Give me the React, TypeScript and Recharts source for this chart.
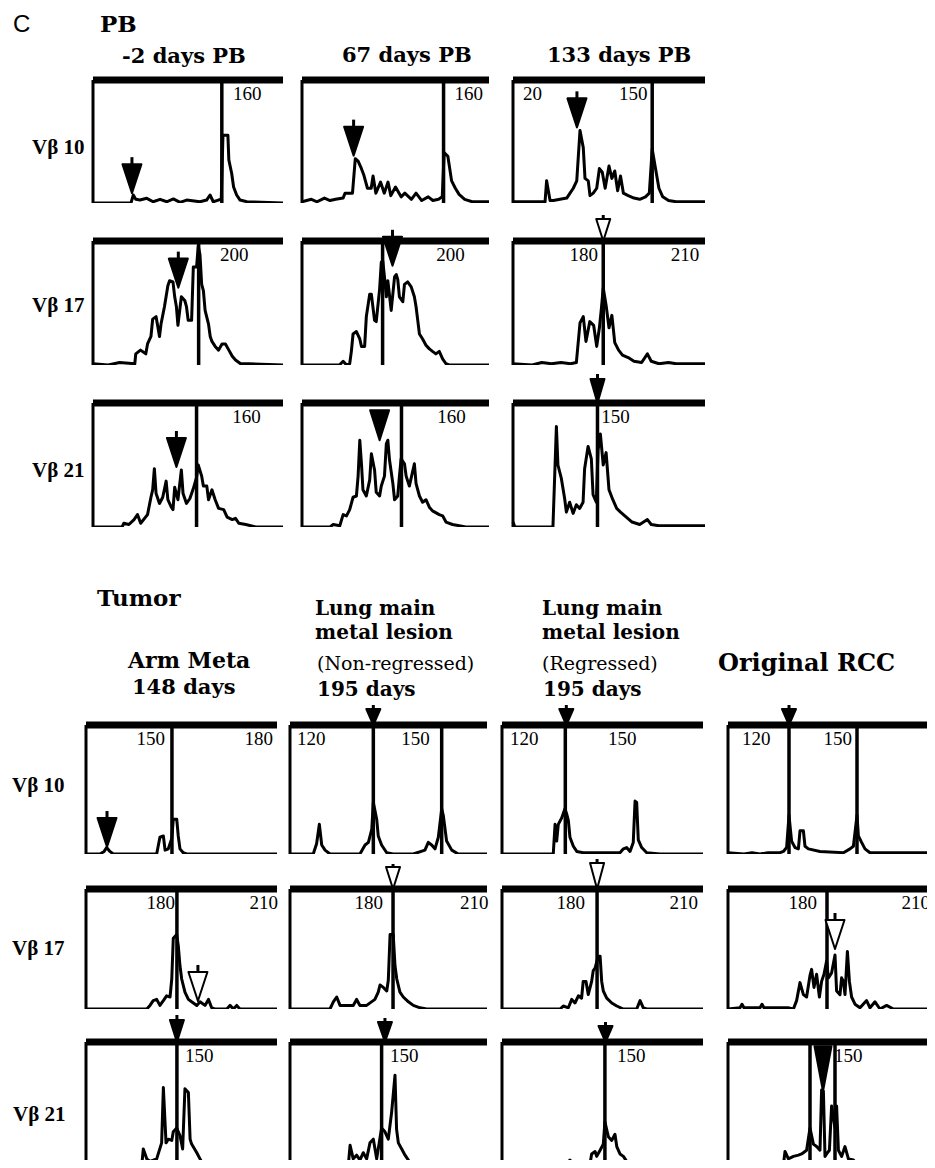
import React from "react";
import { LineChart, Line, XAxis, YAxis, ReferenceLine, ReferenceDot } from "recharts";

type Pt = [number, number];
type Lbl = [string, number, "start" | "end"];
type Arw = [number, number, "solid" | "hollow", number?, number?];

// lane position 0-100 (left to right), signal 0-100 (baseline to top bar)

// PB, Vb10
const pb02V10: Pt[] = [[0,0],[20,0],[21.2,6.5],[22.5,3],[24.7,2.4],[28.3,3.8],[31.7,1],[35.3,3],[38.8,1],[42.3,3.3],[45.8,0.5],[49.3,2.4],[56.3,1],[59.8,2.4],[61.6,6.5],[63.3,1],[66,2.4],[67.5,3],[68.4,55],[71,55],[71.5,35],[73,24],[74,13],[75.6,6.5],[77.4,2.4],[81,1],[100,0]];
const pb67V10: Pt[] = [[0,1],[5,3],[8,1],[12,4],[15,2],[18,3],[22,4],[23,8],[27,8],[28.5,36],[30,34],[31.5,29],[33,23],[35,12],[37,12],[38,22],[39.5,8],[42,17],[44,8],[46,17],[47.5,6],[50,13],[53,5],[55,8],[58.5,3],[61,8],[64,2],[67.5,5],[70,2],[73,3],[75,5],[76,41],[78,38],[80,18],[82,12],[84,7],[87,3],[91,1],[100,1]];
const pb133V10: Pt[] = [[0,1],[16.7,1],[17.5,18],[19.3,2],[21,2],[28,4],[29.7,8],[31.4,12],[33.2,18],[34.9,59],[36.6,45],[37.5,20],[39.2,18],[40.1,6],[41.8,8],[43.6,12],[45,28],[46.5,25],[48,12],[50,30],[51.5,20],[53,26],[54.5,10],[56,22],[57.5,8],[60,6],[63,4],[66,3],[69,5],[71,8],[72.5,44],[74,30],[76,12],[78,5],[81,2],[85,1],[100,1]];

// PB, Vb17
const pb02V17: Pt[] = [[0,1],[8,0],[14,2],[22,1],[22.5,9],[25,12],[27.8,9],[28.7,17],[30.5,23],[31.4,37],[33.2,39],[34.1,31],[35,23],[35.8,33],[37.6,47],[39.4,64],[40.3,68],[42.1,67],[43,55],[43.9,47],[44.7,32],[46.5,55],[48.3,52],[49.2,47],[50.1,36],[51.9,36],[52.8,79],[54.5,79],[55.4,96],[56.3,89],[57.2,65],[58.1,60],[59,44],[60.8,33],[61.7,23],[62.6,19],[64.3,15],[66.1,12],[67.9,17],[69.7,17],[71.5,12],[73.3,7],[75,4],[77.7,1],[82,1],[100,0]];
const pb67V17: Pt[] = [[0,0],[20,0],[22,3],[23.8,0],[25.5,1],[26.4,11],[27.3,25],[29.1,27],[30.9,21],[31.8,15],[33.5,15],[34.4,39],[36.2,57],[37.1,57],[38.8,36],[39.7,35],[41.5,61],[42.4,83],[43.2,84],[44.1,71],[45.1,55],[45.9,68],[47.7,44],[49.5,71],[50.4,73],[51.2,69],[52.1,55],[53.9,51],[54.8,65],[56.5,67],[58.4,63],[60.1,55],[61,47],[61.9,36],[62.8,25],[64.5,21],[66.3,16],[68.1,13],[69.8,11],[71.6,9],[73.4,11],[75.2,5],[77,1],[78.7,0],[100,0]];
const pb133V17: Pt[] = [[0,1],[10,0],[15,2],[20,1],[25,2],[30,1],[33,2],[34.9,34],[36.6,39],[38,19],[40,35],[42,32],[43.6,15],[45,30],[46,45],[47,62],[48.5,48],[50,30],[51.5,40],[53,18],[55,12],[57,8],[60,6],[63,3],[67,2],[70,9],[72,3],[76,1],[81,2],[85,1],[100,1]];

// PB, Vb21
const pb02V21: Pt[] = [[0,0],[15.3,0],[16.2,3],[18.9,2],[21.6,6],[23.4,10],[25.1,3],[28.7,10],[30.5,24],[31.4,30],[32.3,47],[33.2,27],[35,19],[36.7,24],[38.5,37],[39.4,22],[41.2,16],[42.1,14],[43,32],[44.7,22],[46.5,46],[47.4,27],[49.2,19],[51,23],[52.8,31],[54.5,40],[55.4,50],[57.2,41],[58.1,33],[59.9,33],[60.8,22],[62.6,30],[64.3,22],[66.1,15],[68.8,14],[70.6,8],[73.3,6],[75,7],[76.8,3],[80.4,2],[85.7,0],[100,0]];
const pb67V21: Pt[] = [[0,0],[15,0],[16.7,2],[20.2,1],[22,10],[23.8,9],[25.5,14],[27.3,24],[29.1,25],[30,41],[30.9,70],[31.8,51],[32.6,30],[34.4,25],[36.2,38],[37.1,59],[38.8,46],[39.7,28],[41.5,25],[42.4,33],[44.1,41],[45.1,67],[45.9,70],[46.8,54],[48.6,35],[49.5,22],[51.2,25],[52.1,41],[53,55],[54.8,51],[55.7,41],[57.4,33],[60.1,51],[61,35],[62.8,25],[64.5,20],[66.3,22],[68.1,16],[69.8,13],[73.4,10],[75.2,9],[77,4],[80.5,2],[87.6,0],[100,0]];
const pb133V21: Pt[] = [[0,4],[1,0],[20.8,0],[22.6,81],[23.4,50],[25.2,39],[26.9,23],[27.8,12],[29.5,20],[31.3,11],[33,18],[34.7,15],[36.5,20],[37.3,47],[39.1,65],[40.8,55],[41.7,26],[43.4,20],[44.3,62],[45.5,75],[47,50],[48.5,60],[50,30],[52,22],[54,15],[56,12],[59,8],[62,4],[66,2],[70,6],[72,2],[76,1],[100,1]];

// Tumor, Vb10
const armV10: Pt[] = [[0,0],[7.3,0],[9.5,2],[10.8,5],[12.5,2],[14.3,0],[37,0],[38.7,13],[40.5,14],[41.4,3],[43.1,4],[44.9,12],[45.7,27],[47.5,27],[48.3,14],[49.2,4],[50.9,1],[52.7,0],[100,0]];
const nonRegV10: Pt[] = [[0,0],[11.8,0],[13.5,8],[14.9,23],[16.1,7],[17.8,3],[20.3,0],[35.5,0],[38.1,7],[39.8,9],[41.5,19],[42.3,40],[44,27],[44.8,14],[46.5,7],[49.1,1],[52.4,0],[62.6,0],[68.5,3],[70.2,9],[71.9,7],[73.6,4],[75.3,13],[77,35],[77.8,30],[79.5,10],[82.1,3],[85.4,0],[100,0]];
const regV10: Pt[] = [[0,0],[25.5,0],[26.4,23],[27.2,10],[28,23],[29.7,28],[31.3,35],[32.2,31],[33,26],[33.8,13],[35.5,6],[37.2,2],[40.4,1],[58.7,1],[60.4,4],[62,5],[63.7,2],[65.3,9],[66.2,41],[67,40],[67.8,11],[69.5,5],[72,1],[78.6,0],[100,0]];
const rccV10: Pt[] = [[0,1],[8,0],[12,1],[16,0],[20,1],[26,1],[27.7,2],[29.3,5],[30.5,30],[31.8,10],[33.5,5],[35.2,4],[36,18],[37.7,18],[38.5,6],[40.2,4],[46,2],[57.7,1],[61,4],[62.7,6],[64.5,30],[65.2,14],[66.8,9],[68.5,4],[71,1],[100,1]];

// Tumor, Vb17
const armV17: Pt[] = [[0,0],[31.8,0],[33.5,3],[35.2,7],[37,8],[38.7,3],[40.5,7],[42.2,11],[44,10],[44.9,25],[45.7,59],[47.5,62],[48.3,53],[49.2,36],[50.1,25],[51.8,14],[53.6,8],[55.3,6],[58,3],[59.7,6],[62.3,3],[64.1,8],[65.8,1],[67.5,0],[73.7,0],[75.4,3],[77.2,0],[78.9,3],[80.6,0],[100,0]];
const nonRegV17: Pt[] = [[0,0],[20.3,0],[22,6],[23.7,10],[25.4,3],[32.1,3],[33.8,8],[35.5,3],[38.9,3],[43.1,8],[44.8,14],[45.7,20],[47.4,18],[49.1,15],[49.9,24],[50.8,62],[52.4,62],[53.3,36],[54.2,25],[55.8,14],[57.5,10],[60.1,6],[62.6,3],[66,1],[69.4,0],[100,0]];
const regV17: Pt[] = [[0,0],[28.9,0],[30.5,2.5],[33,1],[34.7,8],[36.3,5],[38,11],[39.6,9],[40.4,23],[41.8,23],[42.9,12],[44.6,23],[45.4,32],[46.3,34],[47.9,44],[48.8,44],[49.6,23],[50.4,15],[52.1,9],[54.6,5],[57.1,2.5],[60.4,0],[67,0],[68.7,7],[70.3,1],[72,0],[100,0]];
const rccV17: Pt[] = [[0,0],[6,1],[7,4],[8,1],[16,1],[17,4],[18,1],[30,1],[32.7,0],[34.3,7],[36,22],[37.7,12],[39.3,10],[41,28],[41.8,33],[43,18],[44.3,29],[45.7,10],[46.8,23],[48,29],[49.3,40],[50.2,26],[51.8,30],[53.5,45],[54.3,15],[56,12],[56.8,26],[57.7,23],[58.5,12],[59.7,48],[60.7,23],[61.8,10],[63.5,4],[66,1],[69.3,7],[71,1],[73.5,6],[76,0],[79.3,3],[82.7,0],[100,0]];

// Tumor, Vb21
const armV21: Pt[] = [[0,0],[29.2,0],[30,13],[31.8,5],[33.5,3],[37,5],[39.6,18],[40.5,63],[41.9,18],[43.1,21],[44.9,20],[45.7,27],[47.5,30],[49.2,24],[50.6,13],[51.8,62],[53.6,59],[54.5,21],[55.3,17],[58,10],[59.7,5],[61.4,0],[100,0]];
const nonRegV21: Pt[] = [[0,0],[29.6,0],[30.5,16],[32.1,5],[33.8,8],[35.5,4],[37.2,10],[38.9,5],[40.6,18],[42.3,21],[44,5],[46.5,30],[48.2,27],[49.9,21],[51.6,43],[53.3,73],[54.1,29],[55,18],[56.7,13],[58.4,8],[60.9,2],[64.3,0],[100,0]];
const regV21: Pt[] = [[0,1],[32.2,1],[33.8,4],[35.5,1],[43.8,1],[44.6,9],[46.3,11],[47.1,7],[48.8,12],[50.4,17],[51.2,35],[52.9,23],[54.6,20],[56.2,25],[57.1,15],[58.7,9],[60.4,7],[62,3],[65.3,0],[100,0]];
const rccV21: Pt[] = [[0,0],[27.7,0],[28.5,11],[30.2,5],[32.7,7],[35.2,8],[36.8,9],[39.3,12],[41,30],[42.7,17],[44.3,15],[46,12],[46.8,61],[47.7,60],[48.5,7],[49.3,9],[50.7,12],[51.8,48],[53.5,30],[54.3,48],[55.2,12],[56.8,7],[58.5,15],[60.2,5],[62.7,4],[64.3,1],[69.3,0],[100,0]];

// size-marker lanes, rows Vb10 / Vb17 / Vb21
const pbMarkers: number[][][] = [
  [[67.8], [75.7], [72.5]],
  [[55.6], [43.1], [47]],
  [[54.5], [53.2], [44]],
];
const tuMarkers: number[][][] = [
  [[45], [42.3, 77], [31.5], [30.5, 64.5]],
  [[47.6], [52.3], [47.3], [49.5]],
  [[47.6], [46.5], [51.2], [41, 53.5]],
];

// size labels (bp)
const pbLabels: Lbl[][][] = [
  [[["160", 73.7, "start"]], [["160", 81.6, "start"]], [["20", 5.2, "start"], ["150", 70, "end"]]],
  [[["200", 66.8, "start"]], [["200", 71.8, "start"]], [["180", 44.3, "end"], ["210", 97, "end"]]],
  [[["160", 73.3, "start"]], [["160", 72.3, "start"]], [["150", 46, "start"]]],
];
const tuLabels: Lbl[][][] = [
  [[["150", 41.4, "end"], ["180", 97.9, "end"]], [["120", 3.6, "start"], ["150", 71, "end"]], [["120", 4, "start"], ["150", 52.7, "start"]], [["120", 7, "start"], ["150", 62, "end"]]],
  [[["180", 46.6, "end"], ["210", 100.5, "end"]], [["180", 47.2, "end"], ["210", 86.3, "start"]], [["180", 41.3, "end"], ["210", 97.5, "end"]], [["180", 44.5, "end"], ["210", 101, "end"]]],
  [[["150", 51.8, "start"]], [["150", 50.8, "start"]], [["150", 57.2, "start"]], [["150", 53, "start"]]],
];

// arrowheads: lane, tip height, style (optional head length / stem length)
const pbArrows: Arw[][][] = [
  [[[20.5, 8, "solid"]], [[27.6, 38.5, "solid"]], [[33.3, 61.5, "solid"]]],
  [[[44.9, 62.4, "solid"]], [[48.4, 80, "solid"]], [[47, 100, "hollow", 22, 4]]],
  [[[43.9, 48.4, "solid"]], [[41.5, 70, "solid", 30, 0]], [[44, 100, "solid", 24, 5]]],
];
const tuArrows: Arw[][][] = [
  [[[11, 5.4, "solid"]], [[42.3, 100, "solid"]], [[32, 100, "solid"]], [[30.5, 100, "solid"]]],
  [[[58.6, 6.7, "hollow"]], [[52.3, 100, "hollow", 22, 3]], [[47.3, 100, "hollow", 26, 4]], [[53.5, 50, "hollow"]]],
  [[[47.6, 100, "solid", 22, 5]], [[48.2, 100, "solid", 20, 4]], [[51.5, 100, "solid"]], [[47.5, 60, "solid", 45, 0]]],
];

const pbTraces = [
  [pb02V10, pb67V10, pb133V10],
  [pb02V17, pb67V17, pb133V17],
  [pb02V21, pb67V21, pb133V21],
];
const tuTraces = [
  [armV10, nonRegV10, regV10, rccV10],
  [armV17, nonRegV17, regV17, rccV17],
  [armV21, nonRegV21, regV21, rccV21],
];

// panel frames in page pixels
const TOP_COLS = [[93, 283], [302, 489], [513, 705]];
const TOP_ROWS = [[80, 203], [241, 365], [403, 527]];
const BOT_COLS = [[86, 277], [290, 487], [502, 703], [728, 928]];
const BOT_ROWS = [[725, 854], [889, 1009], [1042, 1165]];

const NUM_FONT = "'Liberation Serif', 'Times New Roman', serif";
const HEAD_FONT = "'DejaVu Serif', serif";

const arrowShape = (kind: string, atBar: boolean, len?: number, stemLen?: number) => (p: any) => {
  const { cx, cy } = p;
  const h = len ?? (atBar ? 16 : 29);
  const hw = atBar ? 7 : len && len > 40 ? 8.5 : 9.5;
  const stem = stemLen ?? (atBar ? 4 : 7);
  return (
    <g>
      {stem > 0 && <line x1={cx} x2={cx} y1={cy - h} y2={cy - h - stem} stroke="#000" strokeWidth={3} />}
      <polygon
        points={`${cx},${cy} ${cx - hw},${cy - h} ${cx + hw},${cy - h}`}
        fill={kind === "hollow" ? "#fff" : "#000"}
        stroke="#000"
        strokeWidth={2}
        strokeLinejoin="round"
      />
    </g>
  );
};

const labelShape = (text: string, anchor: string) => (p: any) => (
  <text x={p.cx} y={p.cy + 20} textAnchor={anchor} fontFamily={NUM_FONT} fontSize={19} fill="#000">
    {text}
  </text>
);

function Panel({ col, row, trace, markers, labels, arrows }: any) {
  const mt = 42, mb = 4, ml = 3, mr = 10;
  const [left, right] = col;
  const [top, bottom] = row;
  const data = trace.map(([p, v]: Pt) => ({ p, v }));
  return (
    <div style={{ position: "absolute", left: left - ml, top: top - mt }}>
      <LineChart
        width={right - left + ml + mr}
        height={bottom - top + mt + mb}
        data={data}
        margin={{ top: mt, right: mr, bottom: mb, left: ml }}
      >
        <XAxis type="number" dataKey="p" domain={[0, 100]} hide />
        <YAxis type="number" domain={[0, 100]} hide allowDataOverflow />
        <ReferenceLine x={0} stroke="#000" strokeWidth={3} />
        {markers.map((m: number) => (
          <ReferenceLine key={`m${m}`} x={m} stroke="#000" strokeWidth={3.5} />
        ))}
        <Line
          dataKey="v"
          type="linear"
          stroke="#000"
          strokeWidth={3}
          strokeLinejoin="round"
          dot={false}
          activeDot={false}
          isAnimationActive={false}
        />
        <ReferenceLine y={100} stroke="#000" strokeWidth={7} />
        {labels.map(([t, x, a]: Lbl) => (
          <ReferenceDot key={`l${t}${x}`} x={x} y={100} r={1} ifOverflow="visible" shape={labelShape(t, a)} />
        ))}
        {arrows.map(([x, y, k, len, stem]: Arw) => (
          <ReferenceDot
            key={`a${x}`}
            x={x}
            y={y}
            r={1}
            ifOverflow="visible"
            shape={arrowShape(k, y >= 100, len, stem)}
          />
        ))}
      </LineChart>
    </div>
  );
}

const head = { fontFamily: HEAD_FONT, fontWeight: 700, fontSize: 21 } as const;
const sub = { fontFamily: HEAD_FONT, fontWeight: 400, fontSize: 19 } as const;
const vb = { fontFamily: NUM_FONT, fontWeight: 700, fontSize: 21 } as const;

export default function App() {
  return (
    <div style={{ position: "relative", width: 935, height: 1168, margin: -8, background: "#fff", overflow: "hidden" }}>
      <svg width={935} height={1168} style={{ position: "absolute", left: 0, top: 0 }}>
        <text x={13} y={32} fontFamily="'Liberation Sans', sans-serif" fontSize={24}>C</text>
        <text x={100} y={32} {...head} fontSize={23}>PB</text>
        <text x={122} y={63} {...head}>-2 days PB</text>
        <text x={342} y={62} {...head}>67 days PB</text>
        <text x={547} y={62} {...head}>133 days PB</text>
        <text x={32} y={154} {...vb}>Vβ 10</text>
        <text x={32} y={312} {...vb}>Vβ 17</text>
        <text x={32} y={477} {...vb}>Vβ 21</text>

        <text x={97} y={606} {...head} fontSize={23}>Tumor</text>
        <text x={128} y={668} {...head} fontSize={22}>Arm Meta</text>
        <text x={132} y={694} {...head}>148 days</text>
        <text x={315} y={615} {...head} fontSize={20}>Lung main</text>
        <text x={315} y={639} {...head} fontSize={20}>metal lesion</text>
        <text x={317} y={670} {...sub}>(Non-regressed)</text>
        <text x={317} y={696} {...head} fontSize={20}>195 days</text>
        <text x={542} y={615} {...head} fontSize={20}>Lung main</text>
        <text x={542} y={639} {...head} fontSize={20}>metal lesion</text>
        <text x={542} y={670} {...sub}>(Regressed)</text>
        <text x={543} y={696} {...head} fontSize={20}>195 days</text>
        <text x={718} y={671} {...head} fontSize={24}>Original RCC</text>
        <text x={12} y={792} {...vb}>Vβ 10</text>
        <text x={12} y={955} {...vb}>Vβ 17</text>
        <text x={13} y={1121} {...vb}>Vβ 21</text>
      </svg>

      {pbTraces.map((r, ri) =>
        r.map((trace, ci) => (
          <Panel
            key={`pb${ri}${ci}`}
            col={TOP_COLS[ci]}
            row={TOP_ROWS[ri]}
            trace={trace}
            markers={pbMarkers[ri][ci]}
            labels={pbLabels[ri][ci]}
            arrows={pbArrows[ri][ci]}
          />
        ))
      )}
      {tuTraces.map((r, ri) =>
        r.map((trace, ci) => (
          <Panel
            key={`tu${ri}${ci}`}
            col={BOT_COLS[ci]}
            row={BOT_ROWS[ri]}
            trace={trace}
            markers={tuMarkers[ri][ci]}
            labels={tuLabels[ri][ci]}
            arrows={tuArrows[ri][ci]}
          />
        ))
      )}
    </div>
  );
}
